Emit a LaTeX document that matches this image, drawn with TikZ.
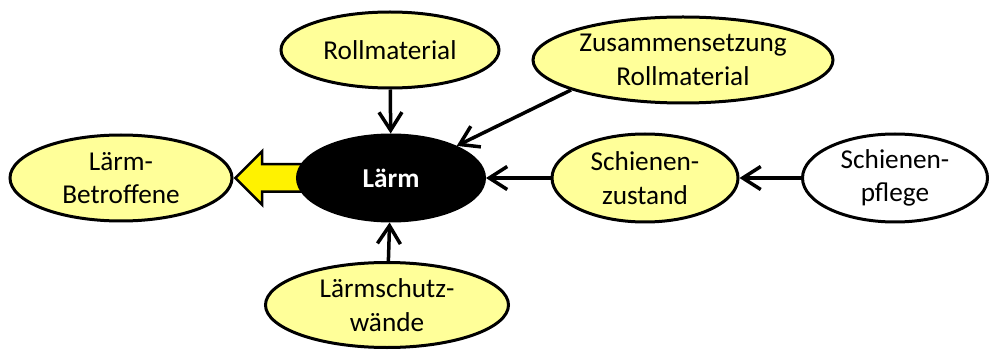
\documentclass[tikz,border=0pt]{standalone}
\usepackage{fontspec}
\setmainfont{Carlito}
\usetikzlibrary{shapes.geometric,shapes.arrows,arrows.meta}
\definecolor{hellgelb}{RGB}{255,255,153}

\begin{document}
\begin{tikzpicture}[
	every node/.style={font=\fontsize{15.5}{19}\selectfont, align=center},
	blase/.style={ellipse, draw=black, line width=0.06cm, fill=hellgelb, inner sep=0pt},
	pfeil/.style={-{Straight Barb[length=0.36cm,width=0.46cm]}, line width=0.07cm},
	blockpfeil/.style={single arrow, draw=black, line width=0.05cm, fill=yellow, shape border rotate=180,
		inner sep=0.25cm, single arrow head extend=0.26cm, minimum height=1.7cm}]
	\useasboundingbox (0,0) rectangle (19.86,-7.02);

	\node[blase, minimum width=4.36cm, minimum height=1.52cm](rollmaterial) at (7.8,-1.0){Rollmaterial};
	\node[blase, minimum width=6.0cm, minimum height=1.72cm](zusammensetzung) at (13.66,-1.2){Zusammensetzung\\Rollmaterial};
	\node[blase, minimum width=4.44cm, minimum height=1.72cm](betroffene) at (2.42,-3.56){Lärm-\\Betroffene};
	\node[blase, minimum width=3.72cm, minimum height=1.76cm](zustand) at (12.9,-3.56){Schienen-\\zustand};
	\node[blase, fill=white, minimum width=3.7cm, minimum height=1.76cm](pflege) at (17.9,-3.56){Schienen-\\pflege};
	\node[blase, minimum width=4.86cm, minimum height=1.7cm](schutzwand) at (7.74,-6.1){Lärmschutz-\\wände};

	% grosser Pfeil zu den Betroffenen
	\node[blockpfeil, anchor=tip](auswirkung) at (betroffene.east){};

	\node[ellipse, fill=black, draw=black, line width=0.06cm, minimum width=3.74cm, minimum height=1.72cm,
		font=\fontsize{15.5}{19}\selectfont\bfseries, text=white](laerm) at (7.82,-3.56){Lärm};

	% Einfluesse
	\draw[pfeil] (rollmaterial) -- (laerm);
	\draw[pfeil] (zusammensetzung.195) -- (laerm);
	\draw[pfeil] (zustand) -- (laerm);
	\draw[pfeil] (pflege) -- (zustand);
	\draw[pfeil] (schutzwand) -- (laerm);

\end{tikzpicture}
\end{document}
